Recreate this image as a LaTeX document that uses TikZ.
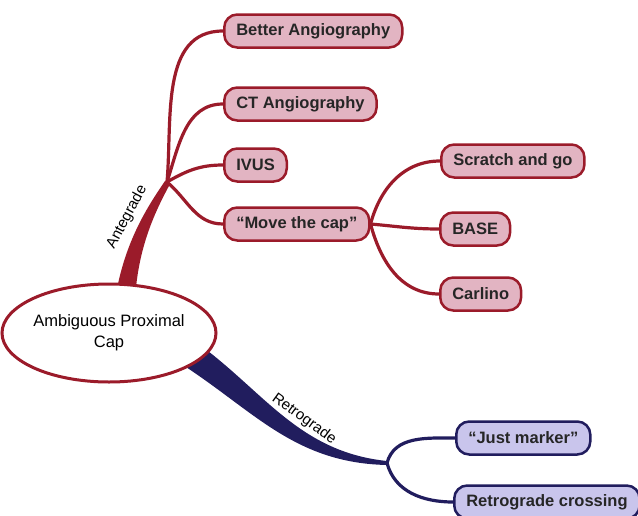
\documentclass[tikz,border=0pt]{standalone}
\usepackage{fontspec}
\setmainfont{Liberation Sans}
\usetikzlibrary{shapes.geometric,backgrounds}
\definecolor{antred}{HTML}{9B1B2A}
\definecolor{antfill}{HTML}{E2B4C2}
\definecolor{retnavy}{HTML}{211D5E}
\definecolor{retfill}{HTML}{C9C5EC}
\tikzset{
  redbox/.style={draw=antred, fill=antfill, line width=2.5pt, rounded corners=13pt,
    minimum height=33pt, inner xsep=12pt, inner ysep=0pt, anchor=west,
    font=\fontsize{16.5}{18}\selectfont\bfseries, text=black!85},
  bluebox/.style={redbox, draw=retnavy, fill=retfill},
  redline/.style={draw=antred, line width=3.2pt},
  blueline/.style={draw=retnavy, line width=3.2pt},
  brlabel/.style={font=\fontsize{15}{17}\selectfont, inner sep=0pt}
}
\begin{document}
\begin{tikzpicture}[x=1pt,y=-1pt]
\useasboundingbox (0,0) rectangle (638,515);
% branch points
\coordinate (aj) at (167,182);
\coordinate (rj) at (387,463);
% central node
\node[ellipse, draw=antred, fill=white, line width=3pt, minimum width=198pt,
  minimum height=98pt, inner sep=0pt, align=center,
  font=\fontsize{16.5}{21}\selectfont] (cap) at (109,333) {Ambiguous Proximal\\Cap};
% antegrade boxes
\node[redbox] (better) at (223,31) {Better Angiography};
\node[redbox] (ct) at (223,104) {CT Angiography};
\node[redbox] (ivus) at (223,165) {IVUS};
\node[redbox] (move) at (223,224) {``Move the cap''};
\node[redbox] (scratch) at (440,161) {Scratch and go};
\node[redbox] (base) at (439,229) {BASE};
\node[redbox] (carlino) at (439,294) {Carlino};
% retrograde boxes
\node[bluebox] (just) at (455,438) {``Just marker''};
\node[bluebox] (rcross) at (453,502) {Retrograde crossing};
\begin{scope}[on background layer]
% thick bands
\fill[antred] (115,300) .. controls (124,242) and (148,206) .. (165,181)
  -- (170,184) .. controls (156,210) and (138,246) .. (135,300) -- cycle;
\fill[retnavy] (200,345) .. controls (265,393) and (300,452) .. (387,461)
  -- (387,465) .. controls (292,463) and (252,408) .. (175,360) -- cycle;
% antegrade connectors
\draw[redline] (aj) to[out=85,in=180] (better.west);
\draw[redline] (aj) to[out=72,in=180] (ct.west);
\draw[redline] (aj) to[out=30,in=180] (ivus.west);
\draw[redline] (aj) to[out=-40,in=180] (move.west);
\draw[redline] (move.east) to[out=75,in=180] (scratch.west);
\draw[redline] (move.east) to[out=-5,in=180] (base.west);
\draw[redline] (move.east) to[out=-75,in=180] (carlino.west);
% retrograde connectors
\draw[blueline] (rj) to[out=75,in=180] (just.west);
\draw[blueline] (rj) to[out=-75,in=180] (rcross.west);
\end{scope}
% labels
\node[brlabel, rotate=62] (antlab) at (127,217) {Antegrade};
\node[brlabel, rotate=-36] (retlab) at (304,419) {Retrograde};
\end{tikzpicture}
\end{document}
